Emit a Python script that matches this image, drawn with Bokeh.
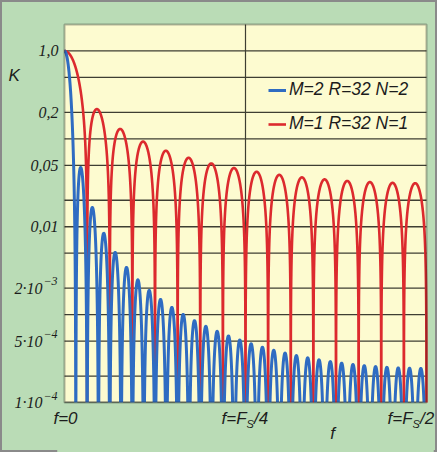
import numpy as np
from bokeh.plotting import figure
from bokeh.models import Label, Legend, LegendItem, Range1d, BoxAnnotation
from bokeh.embed import file_html
from bokeh.resources import INLINE

# ---- data (CIC filter parameters, from the legend) ----
series_labels = ["M=2 R=32 N=2", "M=1 R=32 N=1"]
M_values = [2, 1]
R_values = [32, 32]
N_values = [2, 1]
series_colors = ["#2f6cc2", "#dc2a2e"]
series_widths = [3, 2.6]

# y grid (1-2-5 steps) and labelled ticks
y_grid = [1.0, 0.5, 0.2, 0.1, 0.05, 0.02, 0.01, 0.005, 0.002, 0.001, 5e-4, 2e-4, 1e-4]
y_plain_ticks = [1.0, 0.2, 0.05, 0.01]
y_plain_labels = ["1,0", "0,2", "0,05", "0,01"]
y_exp_ticks = [0.002, 5e-4, 1e-4]
y_exp_mant = ["2·10", "5·10", "1·10"]
y_exp_pow = ["−3", "−4", "−4"]
x_min, x_max = 0.0, 0.5
y_min, y_max = 1e-4, 2.0
x_grid = [0.25]

FONT = "Liberation Sans"
GREEN = "#badcb6"
YELLOW = "#fdfbd0"
GRID = "#3e3e32"
TXT = "#1c1c1c"

# ---- pixel layout of the plot box inside the canvas ----
W, H = 437, 452
L, Rpx, T, B = 64, 426, 24, 402
xs = (x_max - x_min) / (Rpx - L)
dec = np.log10(y_max / y_min) / (B - T)
xr = Range1d(x_min - L * xs, x_max + (W - Rpx) * xs)
yr = Range1d(y_min / 10 ** ((H - B) * dec), y_max * 10 ** (T * dec))

p = figure(width=W, height=H, output_backend="svg", toolbar_location=None,
           y_axis_type="log", x_range=xr, y_range=yr,
           min_border=0, min_border_left=0, min_border_right=0,
           min_border_top=0, min_border_bottom=0)
p.axis.visible = False
p.grid.visible = False
p.background_fill_color = GREEN
p.border_fill_color = GREEN
p.outline_line_color = "#8a8a8a"
p.outline_line_width = 3

# plot area
p.add_layout(BoxAnnotation(left=x_min, right=x_max, bottom=y_min, top=y_max,
                           fill_color=YELLOW, fill_alpha=1, line_color=None,
                           level="underlay"))

# grid lines
n = len(y_grid)
p.segment(x0=[x_min] * n, x1=[x_max] * n, y0=y_grid, y1=y_grid,
          line_color=GRID, line_width=1.3)
p.segment(x0=x_grid, x1=x_grid, y0=[y_min] * len(x_grid), y1=[y_max] * len(x_grid),
          line_color=GRID, line_width=1.2)

# curves
f = np.arange(0, 3201) / 6400.0
curves = []
for M, R, N in zip(M_values, R_values, N_values):
    with np.errstate(divide="ignore", invalid="ignore"):
        k = np.abs(np.sin(np.pi * f * R * M) / (R * M * np.sin(np.pi * f))) ** N
    k[0] = 1.0
    curves.append(np.maximum(k, 1e-8))

rend_objs = [None, None]
for idx in [1, 0]:  # red first, blue on top
    rend_objs[idx] = p.line(f, curves[idx], line_color=series_colors[idx],
                            line_width=series_widths[idx])

# mask below the plot area (only under the curves) and the frame of the plot area
p.add_layout(BoxAnnotation(left=x_min - 0.01, right=x_max + 0.01, top=y_min,
                           fill_color=GREEN, fill_alpha=1, line_color=None))
p.add_layout(BoxAnnotation(left=x_min, right=x_max, bottom=y_min, top=y_max,
                           fill_alpha=0, line_color="#111111", line_width=2))

# y tick labels
p.text(x=[x_min] * len(y_plain_ticks), y=y_plain_ticks, text=y_plain_labels,
       x_offset=-6, text_align="right", text_baseline="middle",
       text_font=FONT, text_font_style="italic", text_font_size="16px", text_color=TXT)
p.text(x=[x_min] * len(y_exp_ticks), y=y_exp_ticks, text=y_exp_mant,
       x_offset=-22, text_align="right", text_baseline="middle",
       text_font=FONT, text_font_style="italic", text_font_size="16px", text_color=TXT)
p.text(x=[x_min] * len(y_exp_ticks), y=y_exp_ticks, text=y_exp_pow,
       x_offset=-21, y_offset=-7, text_align="left", text_baseline="middle",
       text_font=FONT, text_font_style="italic", text_font_size="12px", text_color=TXT)

# legend
legend = Legend(items=[LegendItem(label=series_labels[i], renderers=[rend_objs[i]]) for i in range(2)],
                location=(268, 318), orientation="vertical",
                background_fill_alpha=0, border_line_color=None,
                padding=0, margin=0, spacing=13, glyph_width=18, glyph_height=20,
                label_height=20, label_standoff=3,
                label_text_font=FONT, label_text_font_style="italic",
                label_text_font_size="17.5px", label_text_color=TXT)
p.add_layout(legend, "center")

# other texts (screen units, y from the bottom of the canvas)
def lab(x, y_top, t, size="17px", align="left"):
    p.add_layout(Label(x=x, y=H - y_top, x_units="screen", y_units="screen", text=t,
                       text_font=FONT, text_font_style="italic", text_font_size=size,
                       text_color=TXT, text_align=align, text_baseline="middle"))

lab(8, 75, "K")
lab(65, 418, "f=0", align="center")
lab(221, 418, "f=F")
lab(246, 423, "S", size="11px")
lab(253.5, 418, "/4")
lab(387, 418, "f=F")
lab(412, 423, "S", size="11px")
lab(419.5, 418, "/2")
lab(332, 433, "f", align="center")

open("out.html", "w").write(file_html(p, INLINE))
